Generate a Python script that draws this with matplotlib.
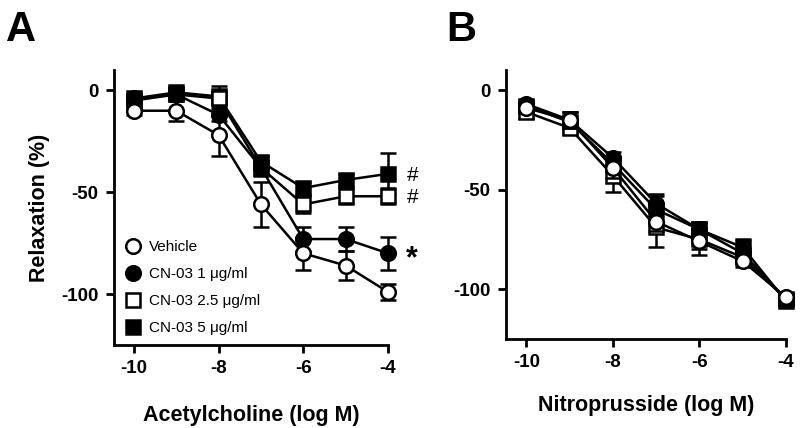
import numpy as np
import matplotlib.pyplot as plt
from matplotlib.lines import Line2D

plt.rcParams['font.family'] = ['Liberation Sans', 'DejaVu Sans']
plt.rcParams['axes.unicode_minus'] = False

conc = [-10, -9, -8, -7, -6, -5, -4]
labels = ["Vehicle", "CN-03 1 \u03bcg/ml", "CN-03 2.5 \u03bcg/ml", "CN-03 5 \u03bcg/ml"]

# panel A: acetylcholine
ach_veh = [-10, -10, -22, -56, -80, -86, -99]
ach_veh_err = [2, 5, 10, 11, 8, 7, 4]
ach_cn1 = [-4, -2, -12, -38, -73, -73, -80]
ach_cn1_err = [2, 2, 3, 4, 6, 6, 8]
ach_cn25 = [-5, -2, -4, -38, -56, -52, -52]
ach_cn25_err = [2, 2, 3, 3, 4, 4, 4]
ach_cn5 = [-4, -1, -3, -35, -48, -44, -41]
ach_cn5_err = [2, 2, 5, 3, 3, 3, 10]

# panel B: nitroprusside
snp_veh = [-9, -15, -39, -66, -76, -86, -104]
snp_veh_err = [2, 4, 5, 5, 4, 3, 2]
snp_cn1 = [-7, -15, -34, -57, -70, -82, -105]
snp_cn1_err = [2, 4, 3, 4, 3, 3, 2]
snp_cn25 = [-11, -19, -43, -69, -75, -84, -105]
snp_cn25_err = [3, 3, 8, 10, 8, 4, 2]
snp_cn5 = [-8, -16, -37, -60, -70, -79, -106]
snp_cn5_err = [2, 5, 4, 8, 4, 4, 2]

styles = [
    dict(marker="o", mfc="white"),
    dict(marker="o", mfc="black"),
    dict(marker="s", mfc="white"),
    dict(marker="s", mfc="black"),
]

fig = plt.figure(figsize=(8, 4.28), dpi=100)
axA = fig.add_axes([0.1425, 0.194, 0.3425, 0.6425])
axB = fig.add_axes([0.6325, 0.208, 0.35, 0.628])


def draw(ax, series, errs):
    # last drawn ends up on top, so go backwards
    for i in [3, 2, 1, 0]:
        st = styles[i]
        h = ax.errorbar(conc, series[i], yerr=errs[i], color="black", lw=1.8,
                        marker=st["marker"], mfc=st["mfc"], mec="black", mew=1.8,
                        ms=10.5 if st["marker"] == "o" else 9.5,
                        capsize=6, capthick=1.8, elinewidth=1.8,
                        clip_on=False, zorder=3 + (3 - i))
        for art in h.lines[1] + h.lines[2]:
            art.set_clip_on(False)
    ax.set_xlim(-10.47, -4)
    ax.set_ylim(-125, 10)
    ax.set_xticks([-10, -8, -6, -4])
    ax.set_yticks([0, -50, -100])
    for s in ["top", "right"]:
        ax.spines[s].set_visible(False)
    for s in ["left", "bottom"]:
        ax.spines[s].set_linewidth(2)
    ax.tick_params(direction="out", length=6, width=2, labelsize=13.5, pad=5)
    for t in ax.get_xticklabels() + ax.get_yticklabels():
        t.set_fontweight("bold")


draw(axA, [ach_veh, ach_cn1, ach_cn25, ach_cn5],
     [ach_veh_err, ach_cn1_err, ach_cn25_err, ach_cn5_err])
draw(axB, [snp_veh, snp_cn1, snp_cn25, snp_cn5],
     [snp_veh_err, snp_cn1_err, snp_cn25_err, snp_cn5_err])

leg_handles = [Line2D([], [], ls="none", marker=st["marker"], mfc=st["mfc"], mec="black",
                      mew=1.8, ms=10.5 if st["marker"] == "o" else 9.5) for st in styles]
axA.legend(leg_handles, labels, loc="lower left", frameon=False, fontsize=11,
           handlelength=1.2, handletextpad=0.45, labelspacing=0.85,
           borderaxespad=0.45, borderpad=0.2)

axA.set_xlabel("Acetylcholine (log M)", fontsize=15.5, fontweight="bold", labelpad=20)
axB.set_xlabel("Nitroprusside (log M)", fontsize=15.5, fontweight="bold", labelpad=17)
axA.set_ylabel("Relaxation (%)", fontsize=15.5, fontweight="bold", labelpad=8)

fig.text(0.008, 0.905, "A", fontsize=30, fontweight="bold")
fig.text(0.558, 0.905, "B", fontsize=30, fontweight="bold")

fig.text(0.508, 0.59, "#", fontsize=15, ha="left", va="center")
fig.text(0.508, 0.538, "#", fontsize=15, ha="left", va="center")
fig.text(0.508, 0.395, "*", fontsize=22, fontweight="bold", ha="left", va="center")

fig.savefig("out.png", dpi=100)
